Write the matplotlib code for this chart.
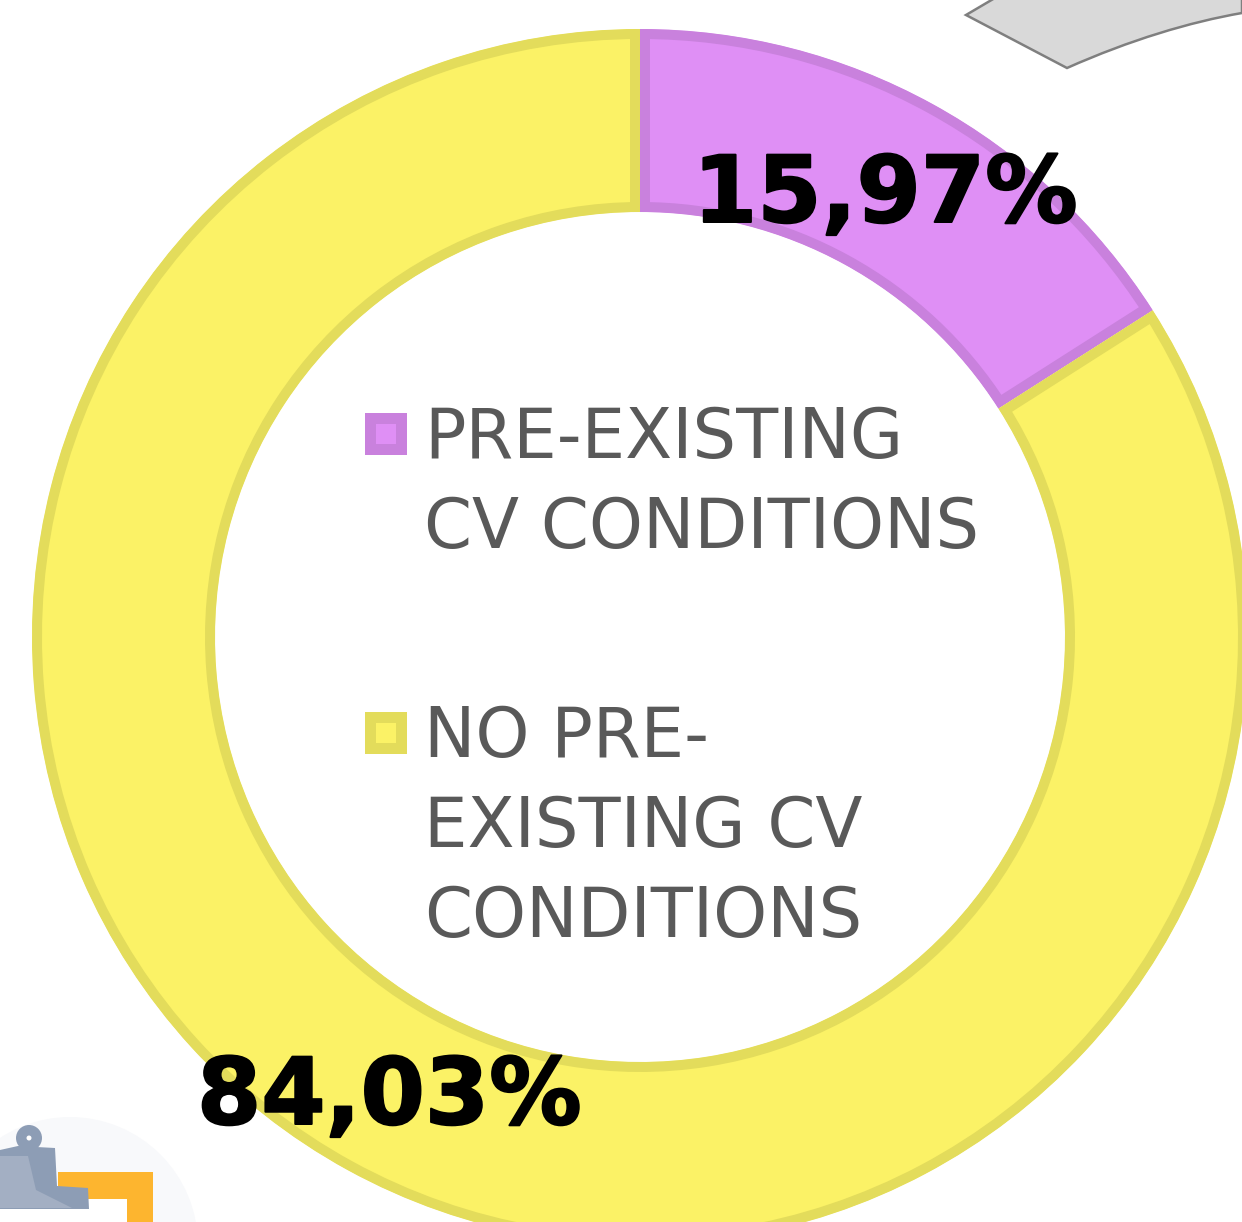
import matplotlib
matplotlib.use("Agg")
import matplotlib.pyplot as plt
import matplotlib.patheffects as pe
from matplotlib.patches import Circle, PathPatch, Polygon, Rectangle
from matplotlib.path import Path

# chart data
categories = ["PRE-EXISTING CV CONDITIONS", "NO PRE-EXISTING CV CONDITIONS"]
values = [15.97, 84.03]
value_labels = ["15,97%", "84,03%"]
legend_lines = [["PRE-EXISTING", "CV CONDITIONS"],
                ["NO PRE-", "EXISTING CV", "CONDITIONS"]]

# styles
fills = ["#DF8FF5", "#FBF266"]
edges = ["#C981DD", "#E3DC5B"]
TEXT_GREY = "#595959"
PX = 72 / 100  # one pixel in points at dpi 100

fig = plt.figure(figsize=(12.42, 12.22), dpi=100)
ax = fig.add_axes([0, 0, 1, 1])
ax.set_xlim(0, 1242)
ax.set_ylim(1222, 0)

# faint halo and clipboard icon peeking in at the bottom left
ax.add_patch(Circle((70, 1245), 128, fc="#F8F9FB", ec="none", zorder=0))
ax.add_patch(Rectangle((58, 1172), 95, 60, fc="#FDB52F", ec="none", zorder=1))
ax.add_patch(Rectangle((0, 1199), 127, 30, fc="white", ec="none", zorder=1))
ax.add_patch(Circle((29, 1138), 13, fc="#8D9DB5", ec="none", zorder=2))
ax.add_patch(Polygon([(0, 1150), (18, 1146), (55, 1148), (57, 1186), (88, 1188),
                      (89, 1209), (0, 1209)], fc="#8D9DB5", ec="none", zorder=2))
ax.add_patch(Polygon([(0, 1156), (28, 1156), (36, 1190), (72, 1208), (0, 1208)],
                     fc="#A3AFC3", ec="none", zorder=2))
ax.add_patch(Circle((29, 1138), 2.5, fc="white", ec="none", zorder=3))

# piece of another grey slice in the top right corner
grey_path = Path([(966, 15), (1067, 68), (1130, 40), (1190, 22), (1242, 13),
                  (1242, -5), (1000, -5), (966, 15)],
                 [Path.MOVETO, Path.LINETO, Path.CURVE4, Path.CURVE4, Path.CURVE4,
                  Path.LINETO, Path.LINETO, Path.CLOSEPOLY])
ax.add_patch(PathPatch(grey_path, fc="#D9D9D9", ec="#7F7F7F", lw=2.5 * PX, zorder=1))

# y axis is inverted, so this start angle and direction run clockwise from the top
wedges, _ = ax.pie(values, colors=fills, startangle=-90, counterclock=True,
                   center=(640, 637), radius=608, frame=True,
                   wedgeprops={"width": 183})
ax.set_xlim(0, 1242)
ax.set_ylim(1222, 0)
ax.set_aspect("equal")
ax.axis("off")

for w, edge in zip(wedges, edges):
    # double width stroke clipped to the wedge gives an inside border
    w.set_edgecolor(edge)
    w.set_linewidth(20 * PX)
    w.set_zorder(3)
    w.set_clip_on(True)
    w.set_clip_path(Path(w.get_path().vertices, w.get_path().codes), w.get_transform())

# value labels, thickened a bit since the original bold face is heavier
label_pos = [(693, 222), (197, 1124)]
for txt, (x, y) in zip(value_labels, label_pos):
    t = ax.text(x, y, txt, fontsize=66.5, fontweight="bold", family="DejaVu Sans",
                color="black", ha="left", va="baseline", zorder=6)
    t.set_path_effects([pe.withStroke(linewidth=2 * PX, foreground="black")])

# legend in the hole
marker_tops = [413, 712]
for lines, top, fill, edge in zip(legend_lines, marker_tops, fills, edges):
    ax.add_patch(Rectangle((370, top + 5), 31, 31, fc=fill, ec=edge,
                           lw=11 * PX, zorder=5))
    for i, line in enumerate(lines):
        ax.text(424.5, top + 45 + i * 90, line, fontsize=49.5, family="DejaVu Sans",
                color=TEXT_GREY, ha="left", va="baseline", zorder=6)

fig.savefig("out.png", dpi=100, facecolor="white")
